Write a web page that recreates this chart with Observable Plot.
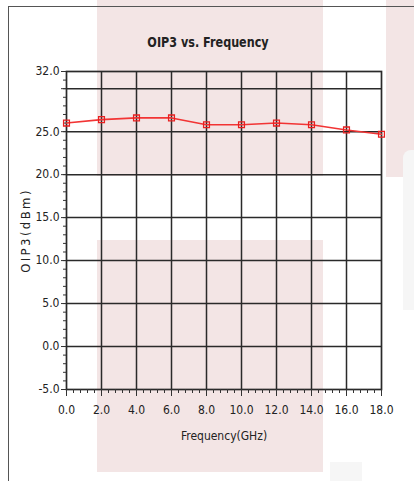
<!DOCTYPE html>
<html>
<head>
<meta charset="utf-8">
<script src="https://cdn.jsdelivr.net/npm/d3@7"></script>
<script src="https://cdn.jsdelivr.net/npm/@observablehq/plot@0.6"></script>
<style>
  html, body { margin: 0; padding: 0; background: #fff; }
  #wrap { position: relative; width: 414px; height: 481px; overflow: hidden; background: #fff; }
  .wm { position: absolute; background: #f3e5e5; }
  .wg { position: absolute; background: #f6f6f6; }
  #border { position: absolute; left: 8px; top: 6px; width: 420px; height: 490px;
            border-top: 1.5px solid #555; border-left: 1.5px solid #555; }
  #title { position: absolute; left: 0; width: 416px; top: 34px; text-align: center;
           font: bold 14px "DejaVu Sans", sans-serif; color: #222; transform: scaleX(0.8); }
  #chart { position: absolute; left: 0; top: 0; }
</style>
</head>
<body>
<div id="wrap">
  <div class="wm" style="left:97px;top:0;width:226px;height:176px"></div>
  <div class="wm" style="left:97px;top:240px;width:226px;height:232px"></div>
  <div class="wm" style="left:386px;top:0;width:28px;height:177px"></div>
  <div class="wg" style="left:330px;top:462px;width:32px;height:19px"></div>
  <div class="wg" style="left:403px;top:150px;width:11px;height:160px;border-radius:8px 0 0 0"></div>
  <div id="border"></div>
  <div id="title">OIP3 vs. Frequency</div>
  <div id="chart"></div>
</div>
<script>
const freqGHz = [0, 2, 4, 6, 8, 10, 12, 14, 16, 18];
const oip3dBm = [26.0, 26.4, 26.6, 26.6, 25.8, 25.8, 26.0, 25.8, 25.2, 24.7];
const yTickValues = [-5, 0, 5, 10, 15, 20, 25, 30, 32];
const yTickLabels = ["-5.0", "0.0", "5.0", "10.0", "15.0", "20.0", "25.0", "", "32.0"];
const xTickValues = [0, 2, 4, 6, 8, 10, 12, 14, 16, 18];
const xTickLabels = ["0.0", "2.0", "4.0", "6.0", "8.0", "10.0", "12.0", "14.0", "16.0", "18.0"];
const yMinorTicks = d3.range(-5, 33, 1);
const xMinorTicks = d3.range(0, 18.001, 0.4);
const yGrid = [0, 5, 10, 15, 20, 25, 30];
const xGrid = [2, 4, 6, 8, 10, 12, 14, 16];

const data = freqGHz.map((f, i) => ({f, v: oip3dBm[i]}));
const font = '"DejaVu Sans Condensed", "DejaVu Sans", sans-serif';

const chart = Plot.plot({
  width: 414,
  height: 481,
  marginLeft: 66,
  marginRight: 33,
  marginTop: 71,
  marginBottom: 92,
  style: {background: "transparent", fontFamily: font, fontSize: "12px", color: "#222"},
  x: {domain: [0, 18]},
  y: {domain: [-5, 32]},
  marks: [
    Plot.ruleY(yGrid, {stroke: "#2a2a2a", strokeWidth: 1.5}),
    Plot.ruleX(xGrid, {stroke: "#2a2a2a", strokeWidth: 1.5}),
    Plot.frame({stroke: "#2a2a2a", strokeWidth: 1.7}),
    Plot.axisY(yMinorTicks, {tickSize: 3, text: null, label: null, stroke: "#333"}),
    Plot.axisX(xMinorTicks, {tickSize: 4, text: null, label: null, stroke: "#333"}),
    Plot.axisY(yTickValues, {
      tickSize: 5, tickPadding: 2, stroke: "#333",
      tickFormat: (d) => yTickLabels[yTickValues.indexOf(d)],
      label: "OIP3(dBm)", labelAnchor: "center", labelArrow: "none", labelOffset: 46,
      fontSize: 12
    }),
    Plot.axisX(xTickValues, {
      tickSize: 7, tickPadding: 9, stroke: "#333",
      tickFormat: (d) => xTickLabels[xTickValues.indexOf(d)],
      label: "Frequency(GHz)", labelAnchor: "center", labelArrow: "none", labelOffset: 50,
      fontSize: 12
    }),
    Plot.line(data, {x: "f", y: "v", stroke: "#f23434", strokeWidth: 1.6}),
    Plot.dot(data, {x: "f", y: "v", symbol: "square", r: 3.3, stroke: "#e82020", fill: "none", strokeWidth: 1.3})
  ]
});
chart.querySelectorAll("text").forEach(t => {
  if (t.textContent === "OIP3(dBm)") {
    t.setAttribute("letter-spacing", "2.4");
    t.setAttribute("font-size", "13");
  }
});
document.getElementById("chart").appendChild(chart);
</script>
</body>
</html>
